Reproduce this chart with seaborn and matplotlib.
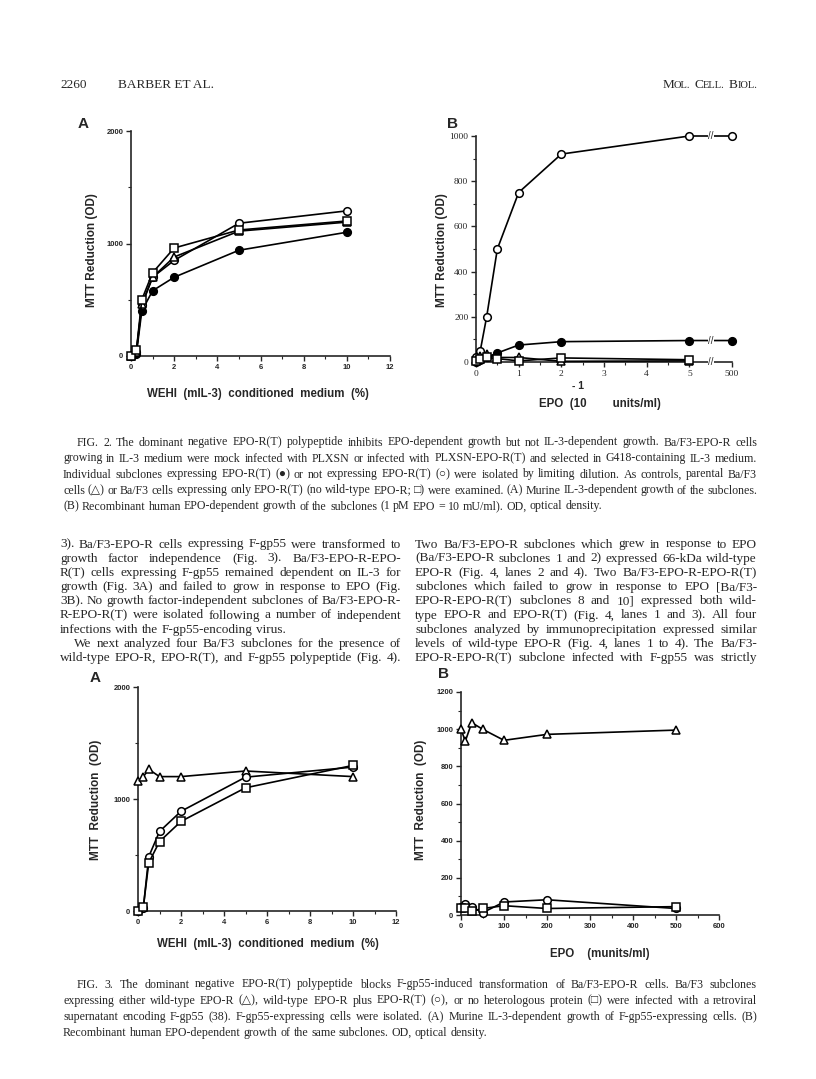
import numpy as np
import pandas as pd
import matplotlib
matplotlib.use("Agg")
import matplotlib.pyplot as plt
import seaborn as sns

W, H = 816, 1079

# Fig. 2A - IL-3 dependent growth
wehi_2a = [0, 0.25, 0.5, 1, 2, 5, 10]
fig2a_filled = [0, 20, 400, 580, 700, 940, 1100]
fig2a_circle = [0, 40, 450, 700, 850, 1180, 1290]
fig2a_triangle = [0, 40, 460, 700, 880, 1110, 1190]
fig2a_square = [0, 50, 500, 740, 960, 1120, 1200]

# Fig. 2B - EPO dependent growth (500 is drawn after the axis break)
epo_2b_ticks = [0, 1, 2, 3, 4, 5, 500]
epo_2b = [0, 0.1, 0.25, 0.5, 1, 2, 5, 500]
fig2b_circle = [20, 50, 200, 500, 750, 920, 1000, 1000]
fig2b_filled = [0, 10, 20, 40, 75, 90, 95, 95]
epo_2b_short = [0, 0.1, 0.25, 0.5, 1, 2, 5]
fig2b_triangle = [10, 25, 35, 20, 20, 3, 5]
fig2b_square = [5, 15, 20, 15, 5, 18, 10]

# Fig. 3A - IL-3 dependent growth of F-gp55 cells
wehi_3a = [0, 0.25, 0.5, 1, 2, 5, 10]
fig3a_triangle = [1160, 1200, 1265, 1200, 1200, 1250, 1200]
fig3a_circle = [0, 30, 485, 710, 890, 1195, 1285]
fig3a_square = [0, 40, 430, 620, 800, 1100, 1300]

# Fig. 3B - EPO dependent growth of F-gp55 cells
epo_3b = [0, 10, 25, 50, 100, 200, 500]
fig3b_triangle = [1000, 935, 1035, 1000, 940, 972, 995]
fig3b_circle = [45, 60, 45, 12, 70, 82, 35]
fig3b_square = [35, 35, 20, 35, 50, 35, 45]

header_left = ["2260", "BARBER ET AL."]
header_right = "MOL. CELL. BIOL."

cap2 = [
    "FIG. 2. The dominant negative EPO-R(T) polypeptide inhibits EPO-dependent growth but not IL-3-dependent growth. Ba/F3-EPO-R cells",
    "growing in IL-3 medium were mock infected with PLXSN or infected with PLXSN-EPO-R(T) and selected in G418-containing IL-3 medium.",
    "Individual subclones expressing EPO-R(T) (\u25cf) or not expressing EPO-R(T) (\u25cb) were isolated by limiting dilution. As controls, parental Ba/F3",
    "cells (\u25b3) or Ba/F3 cells expressing only EPO-R(T) (no wild-type EPO-R; \u25a1) were examined. (A) Murine IL-3-dependent growth of the subclones.",
    "(B) Recombinant human EPO-dependent growth of the subclones (1 pM EPO = 10 mU/ml). OD, optical density.",
]
body_left = [
    "3). Ba/F3-EPO-R cells expressing F-gp55 were transformed to",
    "growth factor independence (Fig. 3). Ba/F3-EPO-R-EPO-",
    "R(T) cells expressing F-gp55 remained dependent on IL-3 for",
    "growth (Fig. 3A) and failed to grow in response to EPO (Fig.",
    "3B). No growth factor-independent subclones of Ba/F3-EPO-R-",
    "R-EPO-R(T) were isolated following a number of independent",
    "infections with the F-gp55-encoding virus.",
    "We next analyzed four Ba/F3 subclones for the presence of",
    "wild-type EPO-R, EPO-R(T), and F-gp55 polypeptide (Fig. 4).",
]
body_right = [
    "Two Ba/F3-EPO-R subclones which grew in response to EPO",
    "(Ba/F3-EPO-R subclones 1 and 2) expressed 66-kDa wild-type",
    "EPO-R (Fig. 4, lanes 2 and 4). Two Ba/F3-EPO-R-EPO-R(T)",
    "subclones which failed to grow in response to EPO [Ba/F3-",
    "EPO-R-EPO-R(T) subclones 8 and 10] expressed both wild-",
    "type EPO-R and EPO-R(T) (Fig. 4, lanes 1 and 3). All four",
    "subclones analyzed by immunoprecipitation expressed similar",
    "levels of wild-type EPO-R (Fig. 4, lanes 1 to 4). The Ba/F3-",
    "EPO-R-EPO-R(T) subclone infected with F-gp55 was strictly",
]
cap3 = [
    "FIG. 3. The dominant negative EPO-R(T) polypeptide blocks F-gp55-induced transformation of Ba/F3-EPO-R cells. Ba/F3 subclones",
    "expressing either wild-type EPO-R (\u25b3), wild-type EPO-R plus EPO-R(T) (\u25cb), or no heterologous protein (\u25a1) were infected with a retroviral",
    "supernatant encoding F-gp55 (38). F-gp55-expressing cells were isolated. (A) Murine IL-3-dependent growth of F-gp55-expressing cells. (B)",
    "Recombinant human EPO-dependent growth of the same subclones. OD, optical density.",
]

sns.set_style("ticks")
plt.rcParams["font.family"] = ["Liberation Sans", "DejaVu Sans"]
SERIF = ["Liberation Serif", "DejaVu Sans"]
SANS = ["Liberation Sans", "DejaVu Sans"]

fig = plt.figure(figsize=(W / 100, H / 100), dpi=100)
renderer = fig.canvas.get_renderer()


def fx(x):
    return x / W


def fy(y):
    return 1 - y / H


def put(x, y, s, **kw):
    kw.setdefault("va", "center_baseline")
    return fig.text(fx(x), fy(y), s, **kw)


def justify(line, x0, x1, y, size, last=False, family=SERIF):
    words = line.split()
    objs = [put(0, y, w, fontsize=size, family=family) for w in words]
    widths = [o.get_window_extent(renderer).width for o in objs]
    if last or len(words) < 2:
        gap = size * 100 / 72 * 0.25
    else:
        gap = (x1 - x0 - sum(widths)) / (len(words) - 1)
    x = x0
    for o, w in zip(objs, widths):
        o.set_x(fx(x))
        x += w + gap


def px_axes(left, top, right, bottom):
    return fig.add_axes([fx(left), fy(bottom), (right - left) / W, (bottom - top) / H])


def series(ax, x, y, marker, filled=False, ms=5.5):
    df = pd.DataFrame({"x": x, "y": y})
    sns.lineplot(data=df, x="x", y="y", ax=ax, color="black", marker=marker,
                 markersize=ms, markerfacecolor="black" if filled else "white",
                 markeredgecolor="black", markeredgewidth=1.1, linewidth=1.2,
                 clip_on=False, zorder=4)


def style(ax, xlim, ylim, xmaj, xmin, ymaj, ymin, size=6, family=SANS, bold=True):
    sns.despine(ax=ax)
    ax.set_xlim(*xlim)
    ax.set_ylim(*ylim)
    ax.set_xticks(xmaj)
    ax.set_xticks(xmin, minor=True)
    ax.set_yticks(ymaj)
    ax.set_yticks(ymin, minor=True)
    ax.set_xlabel("")
    ax.set_ylabel("")
    ax.patch.set_alpha(0)
    for s in ("left", "bottom"):
        ax.spines[s].set_linewidth(1.2)
    ax.tick_params(which="major", direction="out", length=3.5, width=1.0, pad=2,
                   labelsize=size)
    ax.tick_params(which="minor", direction="out", length=2, width=0.8)
    for t in ax.get_xticklabels() + ax.get_yticklabels():
        t.set_family(family)
        if bold:
            t.set_weight("bold")


# header (journal name in small capitals)
put(60, 84, header_left[0], fontsize=9.5, family=SERIF)
put(118, 84, header_left[1], fontsize=9.5, family=SERIF)
x = 757
for word in reversed(header_right.split()):
    rest = put(x, 84, word[1:], fontsize=7.6, family=SERIF, ha="right")
    wr = rest.get_window_extent(renderer).width
    first = put(x - wr, 84, word[0], fontsize=9.5, family=SERIF, ha="right")
    x -= wr + first.get_window_extent(renderer).width + 3.5

# ---------------- Fig. 2A
ax = px_axes(131, 131, 390, 356)
series(ax, wehi_2a, fig2a_filled, "o", filled=True)
series(ax, wehi_2a, fig2a_circle, "o")
series(ax, wehi_2a, fig2a_triangle, "^")
series(ax, wehi_2a, fig2a_square, "s")
style(ax, (0, 12), (0, 2000), range(0, 13, 2), range(1, 12, 2), [0, 1000, 2000], [500, 1500],
      size=5.5)
put(83, 123, "A", fontsize=11, weight="bold", ha="center")
put(92, 250, "MTT Reduction (OD)", fontsize=8.5, weight="bold", rotation=90,
    ha="center", va="center")
put(258, 393, "WEHI  (mIL-3)  conditioned  medium  (%)", fontsize=8.3, weight="bold",
    ha="center")


# ---------------- Fig. 2B (broken x axis: 500 drawn one step after 5)
def brk(v):
    return [x if x <= 5 else 6 for x in v]


ax = px_axes(476, 136, 732, 362)
series(ax, brk(epo_2b), fig2b_circle, "o")
series(ax, brk(epo_2b), fig2b_filled, "o", filled=True)
series(ax, epo_2b_short, fig2b_triangle, "^")
series(ax, epo_2b_short, fig2b_square, "s")
style(ax, (0, 6), (0, 1000), brk(epo_2b_ticks), [0.5, 1.5, 2.5, 3.5, 4.5],
      range(0, 1001, 200), range(100, 1000, 200), size=6.8, family=SERIF, bold=False)
ax.set_xticklabels([str(v) for v in epo_2b_ticks])
for yv in (fig2b_circle[-1], fig2b_filled[-1], 0):
    ax.text(5.5, yv, "//", ha="center", va="center", fontsize=7, zorder=6,
            clip_on=False, bbox=dict(fc="white", ec="none", pad=0.2))
put(452, 122, "B", fontsize=11, weight="bold", ha="center")
put(442, 250, "MTT Reduction (OD)", fontsize=8.5, weight="bold", rotation=90,
    ha="center", va="center")
put(578, 385, "- 1", fontsize=7.5, weight="bold", ha="center")
put(600, 402, "EPO  (10        units/ml)", fontsize=8.3, weight="bold", ha="center")

# ---------------- Fig. 2 legend text
for i, line in enumerate(cap2):
    x0 = 77 if i == 0 else 63
    justify(line, x0, 757, 441 + i * 16.0, 8.6, last=(i == len(cap2) - 1))

# ---------------- body text
for i, line in enumerate(body_left):
    x0 = 74 if i == 7 else 60
    justify(line, x0, 401, 543 + i * 14.2, 9.5, last=(i == 6))
for i, line in enumerate(body_right):
    justify(line, 415, 757, 543 + i * 14.2, 9.5)

# ---------------- Fig. 3A
ax = px_axes(138, 687, 396, 911)
series(ax, wehi_3a, fig3a_triangle, "^", ms=6)
series(ax, wehi_3a, fig3a_circle, "o")
series(ax, wehi_3a, fig3a_square, "s")
style(ax, (0, 12), (0, 2000), range(0, 13, 2), range(1, 12, 2), [0, 1000, 2000], [500, 1500],
      size=5.5)
put(95, 677, "A", fontsize=11, weight="bold", ha="center")
put(96, 800, "MTT  Reduction  (OD)", fontsize=8.5, weight="bold", rotation=90,
    ha="center", va="center")
put(268, 943, "WEHI  (mIL-3)  conditioned  medium  (%)", fontsize=8.3, weight="bold",
    ha="center")

# ---------------- Fig. 3B
ax = px_axes(461, 692, 719, 915)
series(ax, epo_3b, fig3b_triangle, "^", ms=6)
series(ax, epo_3b, fig3b_circle, "o")
series(ax, epo_3b, fig3b_square, "s")
style(ax, (0, 600), (0, 1200), range(0, 601, 100), range(50, 600, 100),
      range(0, 1201, 200), range(100, 1200, 200), size=5.5)
put(444, 673, "B", fontsize=11, weight="bold", ha="center")
put(421, 800, "MTT  Reduction  (OD)", fontsize=8.5, weight="bold", rotation=90,
    ha="center", va="center")
put(600, 953, "EPO    (munits/ml)", fontsize=8.3, weight="bold", ha="center")

# ---------------- Fig. 3 legend text
for i, line in enumerate(cap3):
    x0 = 77 if i == 0 else 63
    justify(line, x0, 757, 983 + i * 16.2, 8.6, last=(i == len(cap3) - 1))

fig.savefig("out.png", dpi=100, facecolor="white")
